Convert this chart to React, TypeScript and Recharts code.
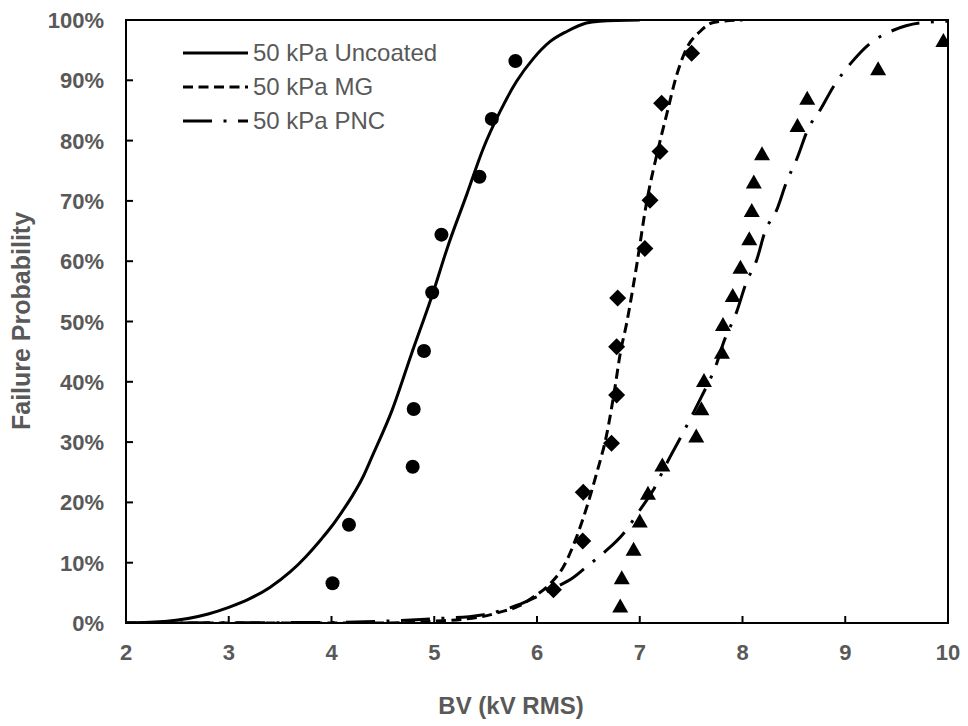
// Failure probability vs breakdown voltage (Weibull-type fits + measured points)

import { ComposedChart, Line, Scatter, XAxis, YAxis, Legend, ReferenceArea, Label } from 'recharts';

const X_TICKS = [2, 3, 4, 5, 6, 7, 8, 9, 10];
const Y_TICKS = [0, 10, 20, 30, 40, 50, 60, 70, 80, 90, 100];
const SERIES_NAMES = ['50 kPa Uncoated', '50 kPa MG', '50 kPa PNC'];

// measured points
const UNCOATED_X = [4.01, 4.17, 4.79, 4.8, 4.9, 4.98, 5.07, 5.44, 5.56, 5.79];
const UNCOATED_Y = [6.6, 16.3, 25.9, 35.5, 45.1, 54.8, 64.4, 74.0, 83.6, 93.2];
const MG_X = [6.16, 6.445, 6.45, 6.725, 6.775, 6.775, 6.785, 7.05, 7.1, 7.197, 7.213, 7.505];
const MG_Y = [5.5, 13.6, 21.7, 29.8, 37.8, 45.8, 53.9, 62.1, 70.1, 78.2, 86.2, 94.5];
const PNC_X = [6.81, 6.825, 6.94, 7.0, 7.08, 7.22, 7.55, 7.6, 7.625, 7.8, 7.81, 7.905, 7.98, 8.066, 8.09, 8.11, 8.19, 8.535, 8.63, 9.32, 9.955];
const PNC_Y = [2.9, 7.6, 12.3, 17.0, 21.6, 26.3, 31.1, 35.6, 40.3, 45.0, 49.6, 54.4, 59.1, 63.8, 68.5, 73.2, 77.9, 82.6, 87.1, 92.0, 96.7];

// fitted curves
const UNCOATED_FIT_X = [2.0, 2.4, 2.8, 3.0, 3.2, 3.4, 3.6, 3.75, 3.9, 4.0, 4.1, 4.2, 4.3, 4.4, 4.59, 4.78, 4.975, 5.137, 5.315, 5.477, 5.64, 5.8, 5.964, 6.126, 6.29, 6.48, 6.61, 7.0];
const UNCOATED_FIT_Y = [0.0, 0.3, 1.5, 2.6, 4.0, 5.9, 8.5, 11.0, 13.9, 16.0, 18.4, 21.0, 24.0, 27.8, 35.3, 44.7, 54.1, 62.7, 71.0, 78.7, 84.8, 89.8, 93.6, 96.4, 98.1, 99.5, 99.8, 100];
const MG_FIT_X = [2.0, 4.5, 5.0, 5.445, 5.64, 5.835, 5.964, 6.127, 6.256, 6.386, 6.484, 6.58, 6.68, 6.76, 6.81, 6.87, 6.97, 7.068, 7.165, 7.26, 7.36, 7.456, 7.587, 7.717, 8.0];
const MG_FIT_Y = [0.0, 0.0, 0.3, 1.0, 1.8, 2.9, 4.3, 6.5, 9.3, 14.3, 19.2, 24.8, 31.4, 39.2, 44.7, 49.5, 59.3, 69.9, 77.6, 84.2, 90.9, 95.3, 98.1, 99.6, 100];
const PNC_FIT_X = [2.0, 4.0, 4.5, 5.0, 5.445, 5.8, 5.99, 6.19, 6.35, 6.48, 6.66, 6.84, 7.0, 7.13, 7.26, 7.42, 7.52, 7.6, 7.748, 7.813, 7.943, 8.04, 8.138, 8.219, 8.333, 8.43, 8.527, 8.64, 8.76, 8.883, 9.053, 9.24, 9.468, 9.727, 10.0];
const PNC_FIT_Y = [0.0, 0.1, 0.3, 0.7, 1.3, 2.9, 4.3, 6.0, 7.5, 9.3, 11.8, 14.8, 18.7, 22.0, 26.4, 31.5, 34.8, 37.5, 43.0, 46.4, 51.6, 56.6, 60.2, 64.9, 68.5, 73.2, 76.9, 82.0, 85.2, 88.9, 92.8, 96.1, 98.3, 99.5, 99.8];

const zip = (xs: number[], ys: number[]) => xs.map((x, i) => ({ x, y: ys[i] }));

const FONT = '"Liberation Sans", Arial, sans-serif';
const GREY = '#595959';
const DASHES = [undefined, '10 5.5', '29 11.5 3 11.5'];

const XTick = (props: any) => {
  const { x, y, payload } = props;
  return (
    <g>
      <line x1={x} x2={x} y1={y} y2={y - 7} stroke="#000" strokeWidth={2} />
      <text x={x} y={y + 37} textAnchor="middle" fill={GREY} fontSize={22} fontWeight="bold" fontFamily={FONT}>
        {payload.value}
      </text>
    </g>
  );
};

const YTick = (props: any) => {
  const { x, y, payload } = props;
  return (
    <g>
      <line x1={x} x2={x + 7} y1={y} y2={y} stroke="#000" strokeWidth={2} />
      <text x={x - 22} y={y + 8} textAnchor="end" fill={GREY} fontSize={22} fontWeight="bold" fontFamily={FONT}>
        {payload.value}%
      </text>
    </g>
  );
};

const circle = (p: any) => <circle cx={p.cx} cy={p.cy} r={7} fill="#000" />;
const diamond = (p: any) => (
  <path d={`M${p.cx},${p.cy - 8.5}L${p.cx + 8.5},${p.cy}L${p.cx},${p.cy + 8.5}L${p.cx - 8.5},${p.cy}Z`} fill="#000" />
);
const triangle = (p: any) => (
  <path d={`M${p.cx},${p.cy - 7}L${p.cx + 8},${p.cy + 7}L${p.cx - 8},${p.cy + 7}Z`} fill="#000" />
);

const renderLegend = () => (
  <div style={{ fontFamily: FONT, fontSize: 24, color: GREY }}>
    {SERIES_NAMES.map((name, i) => (
      <div key={name} style={{ display: 'flex', alignItems: 'center', height: 34, whiteSpace: 'nowrap' }}>
        <svg width={65} height={10} style={{ marginRight: 5 }}>
          <line x1={0} x2={65} y1={5} y2={5} stroke="#000" strokeWidth={3} strokeDasharray={DASHES[i]} />
        </svg>
        <span>{name}</span>
      </div>
    ))}
  </div>
);

export default function App() {
  return (
    <div style={{ position: 'absolute', left: 0, top: 0, background: '#fff' }}>
      <ComposedChart width={968} height={726} margin={{ top: 20, right: 20, left: 0, bottom: 43 }}>
        <XAxis
          dataKey="x"
          type="number"
          domain={[2, 10]}
          ticks={X_TICKS}
          allowDataOverflow
          height={60}
          axisLine={{ stroke: '#000', strokeWidth: 2 }}
          tickLine={false}
          tickSize={0}
          tickMargin={0}
          tick={<XTick />}
        >
          <Label
            content={() => (
              <text x={511} y={714} textAnchor="middle" fill={GREY} fontSize={24} fontWeight="bold" fontFamily={FONT}>
                BV (kV RMS)
              </text>
            )}
          />
        </XAxis>
        <YAxis
          dataKey="y"
          type="number"
          domain={[0, 100]}
          ticks={Y_TICKS}
          allowDataOverflow
          width={126}
          axisLine={{ stroke: '#000', strokeWidth: 2 }}
          tickLine={false}
          tickSize={0}
          tickMargin={0}
          tick={<YTick />}
        >
          <Label
            content={() => (
              <text
                x={30}
                y={321}
                transform="rotate(-90, 30, 321)"
                textAnchor="middle"
                fill={GREY}
                fontSize={25}
                fontWeight="bold"
                fontFamily={FONT}
              >
                Failure Probability
              </text>
            )}
          />
        </YAxis>
        <ReferenceArea x1={2} x2={10} y1={0} y2={100} fill="none" stroke="#000" strokeWidth={2} />
        <Legend
          layout="vertical"
          align="center"
          verticalAlign="middle"
          wrapperStyle={{ left: 183, top: 36, width: 300 }}
          content={renderLegend}
        />
        <Line data={zip(UNCOATED_FIT_X, UNCOATED_FIT_Y)} dataKey="y" type="monotone" stroke="#000" strokeWidth={3} dot={false} isAnimationActive={false} />
        <Line data={zip(MG_FIT_X, MG_FIT_Y)} dataKey="y" type="monotone" stroke="#000" strokeWidth={3} strokeDasharray={DASHES[1]} dot={false} isAnimationActive={false} />
        <Line data={zip(PNC_FIT_X, PNC_FIT_Y)} dataKey="y" type="monotone" stroke="#000" strokeWidth={3} strokeDasharray={DASHES[2]} dot={false} isAnimationActive={false} />
        <Scatter data={zip(UNCOATED_X, UNCOATED_Y)} dataKey="y" shape={circle} isAnimationActive={false} />
        <Scatter data={zip(MG_X, MG_Y)} dataKey="y" shape={diamond} isAnimationActive={false} />
        <Scatter data={zip(PNC_X, PNC_Y)} dataKey="y" shape={triangle} isAnimationActive={false} />
      </ComposedChart>
    </div>
  );
}
